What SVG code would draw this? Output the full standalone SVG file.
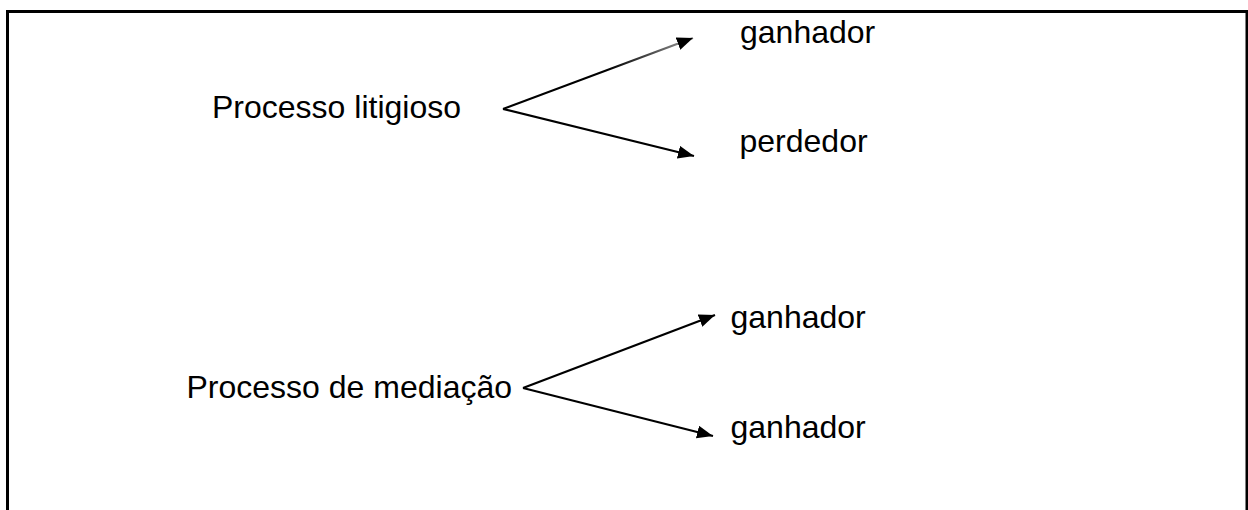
<svg xmlns="http://www.w3.org/2000/svg" width="1248" height="510" viewBox="0 0 1248 510">
  <style>
    .lbl { font-family: "Liberation Sans", Arial, sans-serif; font-size: 32px; fill: #000; }
    .conn { stroke: #000; stroke-width: 2.2; fill: none; marker-end: url(#arrow); }
  </style>
  <defs>
    <marker id="arrow" markerUnits="userSpaceOnUse" markerWidth="17" markerHeight="13" refX="16" refY="6.5" orient="auto">
      <path d="M0,0 L16,6.5 L0,13 z" fill="#000"/>
    </marker>
    <linearGradient id="fade" gradientUnits="userSpaceOnUse" x1="503" y1="109" x2="693" y2="38">
      <stop offset="0" stop-color="#000"/>
      <stop offset="0.55" stop-color="#000"/>
      <stop offset="1" stop-color="#999"/>
    </linearGradient>
  </defs>
  <rect width="1248" height="510" fill="#fff"/>
  <path d="M7.5,510 L7.5,11.5 L1247,11.5 L1247,510" fill="none" stroke="#000" stroke-width="3"/>

  <g id="connectors">
    <line class="conn" x1="503" y1="109" x2="693" y2="38" style="stroke:url(#fade)"/>
    <line class="conn" x1="503" y1="109" x2="694" y2="156"/>
    <line class="conn" x1="523" y1="388" x2="715" y2="315"/>
    <line class="conn" x1="523" y1="388" x2="713" y2="436"/>
  </g>

  <g id="litigioso"><text class="lbl" x="212" y="117.5">Processo litigioso</text></g>
  <g id="ganhador1"><text class="lbl" x="740" y="42.5">ganhador</text></g>
  <g id="perdedor"><text class="lbl" x="739.5" y="152">perdedor</text></g>
  <g id="mediacao"><text class="lbl" x="186.5" y="398">Processo de mediação</text></g>
  <g id="ganhador2"><text class="lbl" x="730.5" y="327.5">ganhador</text></g>
  <g id="ganhador3"><text class="lbl" x="730.5" y="437.5">ganhador</text></g>
</svg>
